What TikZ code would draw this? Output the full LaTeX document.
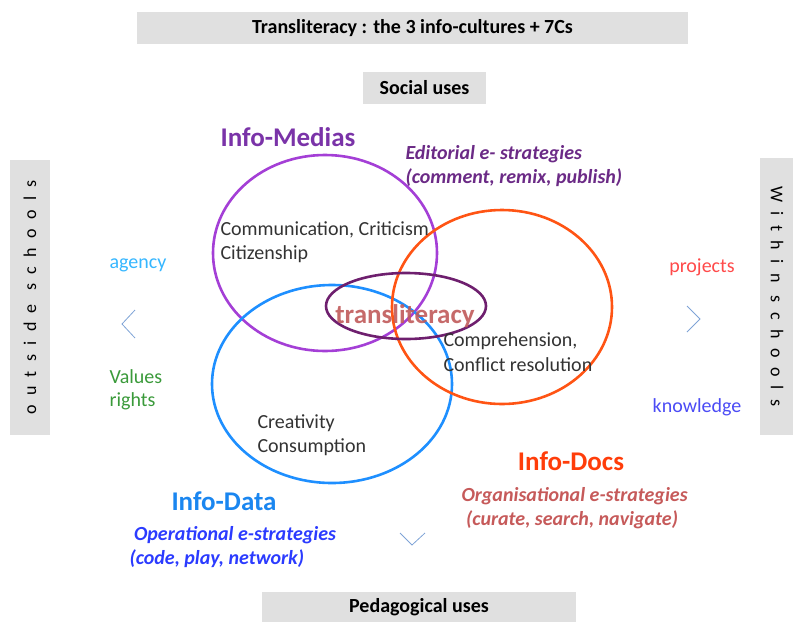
\documentclass[tikz,border=0pt]{standalone}
\usepackage{fontspec}
\setmainfont{Carlito}
\usetikzlibrary{shapes.geometric}
\definecolor{boxgray}{HTML}{E0E0E0}
\definecolor{medpurple}{HTML}{A43FD6}
\definecolor{databblue}{HTML}{1E8FFF}
\definecolor{docorange}{HTML}{FF5414}
\definecolor{transpurple}{HTML}{6E1F6E}
\definecolor{transred}{HTML}{C05A5A}
\definecolor{editpurple}{HTML}{6B2A86}
\definecolor{orgred}{HTML}{C65A5A}
\definecolor{opblue}{HTML}{2B3BFF}
\definecolor{agencyblue}{HTML}{35B6FF}
\definecolor{valgreen}{HTML}{3A9A3A}
\definecolor{projred}{HTML}{FF4A4A}
\definecolor{knowblue}{HTML}{4B4BF5}
\definecolor{chevblue}{HTML}{7FA3D6}
\definecolor{infomed}{HTML}{7A33A8}
\definecolor{infodocs}{HTML}{FF3D0A}
\definecolor{infodata}{HTML}{1A86F0}
\tikzset{
  graybox/.style={fill=boxgray, draw=none, inner sep=0pt, font=\bfseries\fontsize{20}{24}\selectfont},
  ring/.style={ellipse, draw, line width=2.6pt, inner sep=0pt},
  body/.style={align=left, anchor=west, font=\fontsize{20}{24.5}\selectfont, text=black!80},
  culture/.style={font=\bfseries\fontsize{27}{30}\selectfont},
  strat/.style={align=left, anchor=west, font=\bfseries\itshape\fontsize{20}{24}\selectfont},
  side/.style={font=\fontsize{20}{23}\selectfont, align=left},
  chev/.style={draw=chevblue, line width=0.8pt},
  spaced/.style={font=\fontsize{18}{20}\selectfont\addfontfeature{LetterSpace=52}}
}
\begin{document}
\begin{tikzpicture}[x=1pt,y=-1pt]
\useasboundingbox (0,0) rectangle (793,622);

% header and footer bars
\node[graybox, minimum width=551pt, minimum height=32pt] (title) at (412.5,28) {Transliteracy : the 3 info-cultures + 7Cs};
\node[graybox, minimum width=123pt, minimum height=32pt] (social) at (424.5,88) {Social uses};
\node[graybox, minimum width=314pt, minimum height=30pt] (peda) at (419,607) {Pedagogical uses};

% side bars
\node[fill=boxgray, minimum width=40pt, minimum height=275pt, inner sep=0pt] (leftbar) at (30,297.5) {};
\node[spaced, rotate=90] (outside) at (leftbar.center) {outside schools};
\node[fill=boxgray, minimum width=34pt, minimum height=277pt, inner sep=0pt] (rightbar) at (777,296.5) {};
\node[spaced, rotate=-90] (within) at (rightbar.center) {Within schools};

% the four ellipses
\node[ring, draw=medpurple, minimum width=224pt, minimum height=196pt] (medias) at (325,253) {};
\node[ring, draw=databblue, minimum width=240pt, minimum height=198pt] (data) at (332,384) {};
\node[ring, draw=docorange, minimum width=220pt, minimum height=194pt] (docs) at (502,307) {};
\node[ring, draw=transpurple, minimum width=160pt, minimum height=66pt] (trans) at (406,306) {};
\node[text=transred, font=\bfseries\fontsize{27}{30}\selectfont, opacity=0.9] (translabel) at (405,316) {transliteracy};

% contents of the ellipses
\node[body] (comm) at (217,242) {Communication, Criticism\\Citizenship};
\node[body] (comp) at (440,352) {Comprehension,\\Conflict resolution};
\node[body] (crea) at (254,435) {Creativity\\Consumption};

% culture names and strategies
\node[culture, text=infomed] (nmedias) at (288,137) {Info-Medias};
\node[strat, text=editpurple] (edit) at (402,166) {Editorial e- strategies\\(comment, remix, publish)};
\node[culture, text=infodocs] (ndocs) at (571,461) {Info-Docs};
\node[strat, text=orgred] (org) at (458,508) {Organisational e-strategies\\\ (curate, search, navigate)};
\node[culture, text=infodata] (ndata) at (224,501) {Info-Data};
\node[strat, text=opblue] (oper) at (126,547) {\ Operational e-strategies\\(code, play, network)};

% left and right labels
\node[side, text=agencyblue] (agency) at (138,265) {agency};
\node[side, text=valgreen, anchor=west] (values) at (106,390) {Values\\rights};
\node[side, text=projred] (projects) at (702,267) {projects};
\node[side, text=knowblue] (know) at (697,407) {knowledge};

% chevrons
\coordinate (lc) at (122,324);
\draw[chev] (135,310) -- (lc) -- (135,338);
\coordinate (rc) at (700,319);
\draw[chev] (687,306) -- (rc) -- (687,332);
\coordinate (dc) at (412,545);
\draw[chev] (400,533) -- (dc) -- (425,533);
\end{tikzpicture}
\end{document}
